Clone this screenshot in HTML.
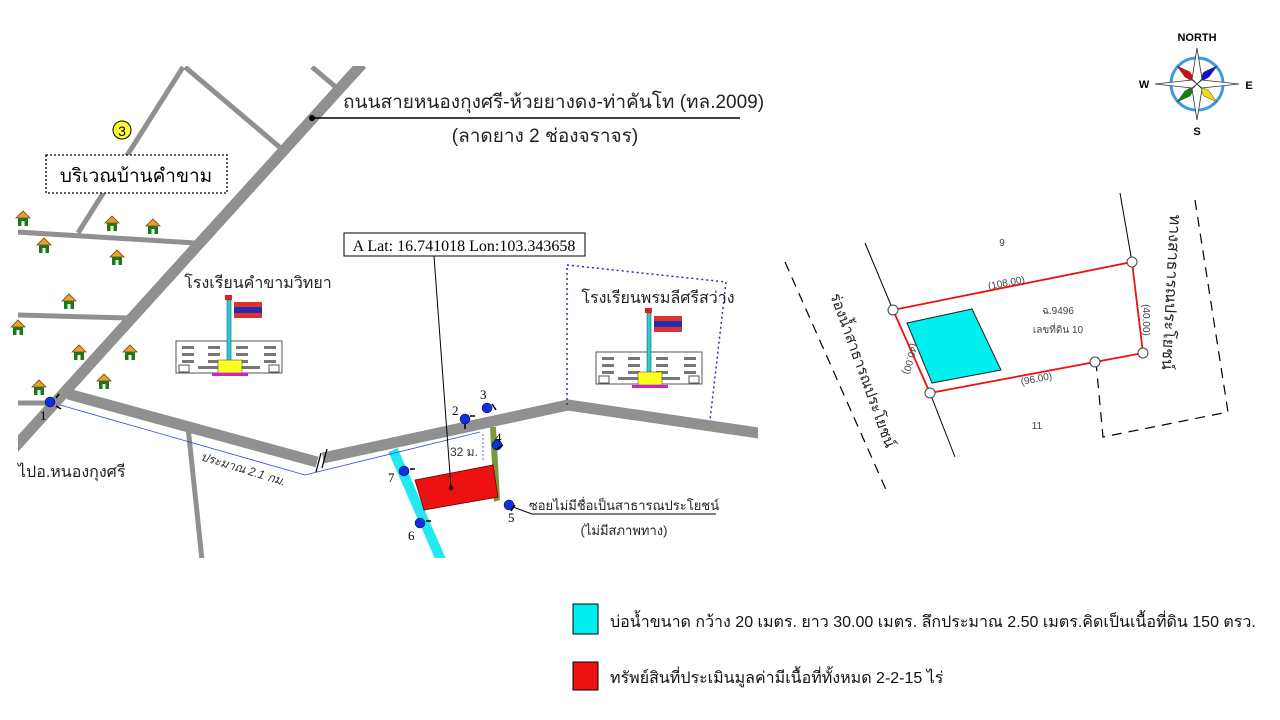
<!DOCTYPE html>
<html><head><meta charset="utf-8"><style>
html,body{margin:0;padding:0;background:#fff;}
svg{display:block;font-family:"Liberation Sans","Noto Sans CJK SC",sans-serif;}
</style></head><body>
<svg width="1280" height="720" viewBox="0 0 1280 720" xmlns="http://www.w3.org/2000/svg">
<defs>
<clipPath id="mc"><rect x="18" y="66" width="740" height="492"/></clipPath>
<g id="house"><polygon points="-7,0 0,-7 7,0" fill="#e8a030" stroke="#804000" stroke-width="0.8"/><rect x="-5" y="0" width="10" height="8" fill="#1a7a1a"/><rect x="-1.5" y="3" width="3" height="5" fill="#fff"/></g>
<g id="bld">
<rect x="0" y="0" width="106" height="32" fill="#fff" stroke="#555"/>
<g fill="#777"><rect x="6" y="5" width="12" height="3"/><rect x="32" y="5" width="12" height="3"/><rect x="60" y="5" width="12" height="3"/><rect x="88" y="5" width="12" height="3"/>
<rect x="6" y="12" width="12" height="3"/><rect x="32" y="12" width="12" height="3"/><rect x="60" y="12" width="12" height="3"/><rect x="88" y="12" width="12" height="3"/>
<rect x="6" y="19" width="12" height="3"/><rect x="32" y="19" width="12" height="3"/><rect x="60" y="19" width="12" height="3"/><rect x="88" y="19" width="12" height="3"/>
<rect x="22" y="25" width="62" height="3"/></g>
<rect x="3" y="24" width="10" height="7" fill="#fff" stroke="#555"/><rect x="93" y="24" width="10" height="7" fill="#fff" stroke="#555"/>
</g>
<g id="pt"><circle r="5" fill="#1030e0" stroke="#000" stroke-width="0.5"/></g>
</defs>

<g clip-path="url(#mc)">
<g stroke="#909090" stroke-width="5" fill="none">
<line x1="183" y1="67" x2="78" y2="233"/>
<line x1="185" y1="67" x2="283" y2="150"/>
<line x1="312" y1="67" x2="337" y2="88"/>
<line x1="17" y1="232" x2="195" y2="243"/>
<line x1="17" y1="315" x2="127" y2="318"/>
<line x1="17" y1="403" x2="51" y2="403"/>
<line x1="188" y1="427" x2="202" y2="560"/>
</g>
<g stroke="#909090" stroke-width="11" fill="none" stroke-linejoin="round">
<line x1="362" y1="64" x2="14" y2="448"/>
<polyline points="68,394 317,462"/>
<polyline points="323,458 568,405 765,434"/>
</g>
<line x1="393" y1="450" x2="441" y2="560" stroke="#22e8f0" stroke-width="10"/>
<polygon points="490,427 496,427 500,500 494,502" fill="#7a9a3a"/>
<polygon points="415,480 493,465 498,497 424,510" fill="#ee1111" stroke="#600" stroke-width="0.8"/>
<circle cx="451" cy="488" r="2" fill="#000"/>
</g>
<path d="M316,472 L321,453 M322,468 L327,449" stroke="#000" stroke-width="1.3"/>
<polyline points="60,405 305,475 480,432" fill="none" stroke="#3344ee" stroke-width="0.8"/>
<line x1="483" y1="434" x2="483" y2="462" stroke="#3344ee" stroke-width="0.8" stroke-dasharray="2,2"/>
<text x="450" y="456" font-size="12" fill="#333">32 ม.</text>
<text x="200" y="460" font-size="12" font-style="italic" fill="#333" transform="rotate(17 200 460)">ประมาณ 2.1 กม.</text>
<text x="18" y="477" font-size="16" fill="#222">ไปอ.หนองกุงศรี</text>

<circle cx="122" cy="130" r="9" fill="#ffff33" stroke="#000" stroke-width="1"/>
<text x="122" y="136" font-size="14" text-anchor="middle">3</text>
<rect x="46" y="155" width="181" height="38" fill="#fff" stroke="#000" stroke-width="1.3" stroke-dasharray="2,2"/>
<text x="136" y="182" font-size="19" text-anchor="middle">บริเวณบ้านคำขาม</text>

<circle cx="312" cy="118" r="3" fill="#000"/>
<line x1="312" y1="118" x2="740" y2="118" stroke="#000" stroke-width="1.5"/>
<text x="343" y="108" font-size="19" fill="#222">ถนนสายหนองกุงศรี-ห้วยยางดง-ท่าคันโท (ทล.2009)</text>
<text x="545" y="142" font-size="19" text-anchor="middle" fill="#222">(ลาดยาง 2 ช่องจราจร)</text>

<use href="#house" x="23" y="218"/><use href="#house" x="112" y="223"/><use href="#house" x="153" y="226"/>
<use href="#house" x="44" y="245"/><use href="#house" x="117" y="257"/><use href="#house" x="69" y="301"/>
<use href="#house" x="18" y="327"/><use href="#house" x="79" y="352"/><use href="#house" x="130" y="352"/>
<use href="#house" x="104" y="381"/><use href="#house" x="39" y="387"/>

<text x="258" y="288" font-size="16" text-anchor="middle" fill="#222">โรงเรียนคำขามวิทยา</text>
<use href="#bld" x="176" y="341"/>
<rect x="227" y="300" width="4" height="62" fill="#22d0e0" stroke="#333" stroke-width="0.5"/>
<rect x="225" y="295" width="7" height="5" fill="#e02020"/>
<rect x="234" y="302" width="28" height="5" fill="#e03030"/><rect x="234" y="307" width="28" height="6" fill="#2030b0"/><rect x="234" y="313" width="28" height="5" fill="#e03030"/>
<rect x="218" y="360" width="24" height="13" fill="#ffff22" stroke="#333" stroke-width="0.5"/>
<rect x="212" y="373" width="36" height="3" fill="#d020d0"/>

<polyline points="567,405 567,265 726,282 710,420" fill="none" stroke="#2030c0" stroke-width="1.5" stroke-dasharray="2,3"/>
<text x="658" y="303" font-size="16" text-anchor="middle" fill="#222">โรงเรียนพรมลีศรีสว่าง</text>
<use href="#bld" x="596" y="352"/>
<rect x="647" y="313" width="4" height="60" fill="#22d0e0" stroke="#333" stroke-width="0.5"/>
<rect x="645" y="308" width="7" height="5" fill="#e02020"/>
<rect x="654" y="316" width="28" height="5" fill="#e03030"/><rect x="654" y="321" width="28" height="6" fill="#2030b0"/><rect x="654" y="327" width="28" height="5" fill="#e03030"/>
<rect x="638" y="372" width="24" height="13" fill="#ffff22" stroke="#333" stroke-width="0.5"/>
<rect x="632" y="385" width="36" height="3" fill="#d020d0"/>

<line x1="434" y1="256" x2="451" y2="488" stroke="#000" stroke-width="1"/>
<rect x="344" y="233" width="241" height="23" fill="#fff" stroke="#000" stroke-width="1"/>
<text x="464" y="251" font-size="16" text-anchor="middle" font-family="Liberation Serif,serif">A Lat: 16.741018 Lon:103.343658</text>

<use href="#pt" x="50" y="402"/><text x="40" y="420" font-size="13" font-family="Liberation Serif,serif">1</text>
<use href="#pt" x="465" y="419"/><text x="452" y="415" font-size="13" font-family="Liberation Serif,serif">2</text>
<use href="#pt" x="487" y="408"/><text x="480" y="399" font-size="13" font-family="Liberation Serif,serif">3</text>
<use href="#pt" x="497" y="445"/><text x="495" y="442" font-size="13" font-family="Liberation Serif,serif">4</text>
<use href="#pt" x="509" y="505"/><text x="508" y="522" font-size="13" font-family="Liberation Serif,serif">5</text>
<use href="#pt" x="420" y="523"/><text x="408" y="540" font-size="13" font-family="Liberation Serif,serif">6</text>
<use href="#pt" x="404" y="471"/><text x="388" y="482" font-size="13" font-family="Liberation Serif,serif">7</text>
<path d="M56,398 l3,-4 M56,406 l5,3 M470,416 l5,0 M465,424 l0,5 M492,404 l4,6 M503,445 l-6,4 M515,505 l-4,6 M426,521 l5,0 M410,469 l5,0" stroke="#000" stroke-width="1.5"/>

<line x1="513" y1="507" x2="532" y2="514" stroke="#000" stroke-width="1"/>
<line x1="532" y1="514" x2="716" y2="514" stroke="#000" stroke-width="1"/>
<text x="624" y="510" font-size="13" text-anchor="middle" fill="#222">ซอยไม่มีชื่อเป็นสาธารณประโยชน์</text>
<text x="624" y="535" font-size="13" text-anchor="middle" fill="#222">(ไม่มีสภาพทาง)</text>

<!-- compass -->
<g transform="translate(1197,84)">
<circle r="26" fill="none" stroke="#3a9ae8" stroke-width="3"/>
<polygon points="0,0 -7,-12 -20,-18 -12,-7" fill="#d01010" stroke="#333" stroke-width="0.5"/>
<polygon points="0,0 7,-12 20,-18 12,-7" fill="#1010d0" stroke="#333" stroke-width="0.5"/>
<polygon points="0,0 -7,12 -20,18 -12,7" fill="#108010" stroke="#333" stroke-width="0.5"/>
<polygon points="0,0 7,12 20,18 12,7" fill="#f0e010" stroke="#333" stroke-width="0.5"/>
<polygon points="0,-36 5,-5 0,0 -5,-5" fill="#fff" stroke="#333" stroke-width="0.8"/>
<polygon points="0,36 5,5 0,0 -5,5" fill="#fff" stroke="#333" stroke-width="0.8"/>
<polygon points="-42,0 -5,-4 0,0 -5,4" fill="#fff" stroke="#333" stroke-width="0.8"/>
<polygon points="42,0 5,-4 0,0 5,4" fill="#fff" stroke="#333" stroke-width="0.8"/>
<text x="0" y="-43" font-size="11" font-weight="bold" text-anchor="middle">NORTH</text>
<text x="0" y="51" font-size="11" font-weight="bold" text-anchor="middle">S</text>
<text x="-53" y="4" font-size="11" font-weight="bold" text-anchor="middle">W</text>
<text x="52" y="5" font-size="11" font-weight="bold" text-anchor="middle">E</text>
</g>

<!-- parcel -->
<g stroke="#000" stroke-width="1">
<line x1="865" y1="243" x2="893" y2="310"/>
<line x1="930" y1="393" x2="955" y2="457"/>
<line x1="1120" y1="193" x2="1132" y2="262"/>
</g>
<g stroke="#000" stroke-width="1.2" stroke-dasharray="10,7" fill="none">
<line x1="785" y1="262" x2="887" y2="492"/>
<polyline points="1195,200 1228,412 1103,437 1096,362"/>
</g>
<polygon points="907,323 972,309 1001,370 932,383" fill="#00f0f0" stroke="#222" stroke-width="1"/>
<polygon points="893,310 1132,262 1143,353 1095,362 930,393" fill="none" stroke="#ee1111" stroke-width="1.8"/>
<g fill="#fff" stroke="#444" stroke-width="1"><circle cx="893" cy="310" r="5"/><circle cx="1132" cy="262" r="5"/><circle cx="1143" cy="353" r="5"/><circle cx="1095" cy="362" r="5"/><circle cx="930" cy="393" r="5"/></g>
<g font-size="10" fill="#444">
<text x="1002" y="246" text-anchor="middle">9</text>
<text x="1037" y="429" text-anchor="middle">11</text>
<text x="1007" y="286" text-anchor="middle" transform="rotate(-11 1007 286)">(108.00)</text>
<text x="1037" y="382" text-anchor="middle" transform="rotate(-11 1037 382)">(96.00)</text>
<text x="907" y="358" text-anchor="middle" transform="rotate(105 907 358)">(40.00)</text>
<text x="1143" y="320" text-anchor="middle" transform="rotate(90 1143 320)">(40.00)</text>
<text x="1058" y="314" text-anchor="middle">ฉ.9496</text>
<text x="1058" y="333" text-anchor="middle">เลขที่ดิน 10</text>
</g>
<text x="858" y="372" font-size="15" text-anchor="middle" fill="#222" transform="rotate(70 858 372)">ร่องน้ำสาธารณประโยชน์</text>
<text x="1166" y="292" font-size="16" text-anchor="middle" fill="#222" transform="rotate(93 1166 292)">ทางสาธารณประโยชน์</text>

<rect x="573" y="604" width="25" height="30" fill="#00f0f0" stroke="#000"/>
<text x="610" y="627" font-size="16" fill="#111">บ่อน้ำขนาด กว้าง 20 เมตร. ยาว 30.00 เมตร. ลึกประมาณ 2.50 เมตร.คิดเป็นเนื้อที่ดิน 150 ตรว.</text>
<rect x="573" y="662" width="25" height="28" fill="#ee1111" stroke="#000"/>
<text x="610" y="683" font-size="16" fill="#111">ทรัพย์สินที่ประเมินมูลค่ามีเนื้อที่ทั้งหมด 2-2-15 ไร่</text>
</svg>
</body></html>
